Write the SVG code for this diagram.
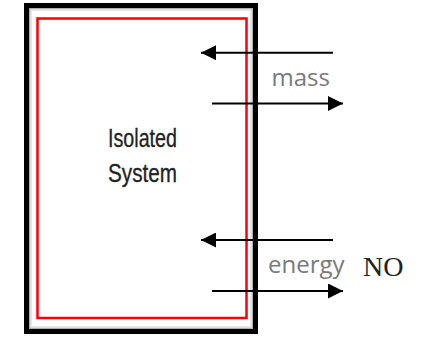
<svg xmlns="http://www.w3.org/2000/svg" width="436" height="339" viewBox="0 0 436 339">
  <style>
    .flow { stroke: #000; stroke-width: 2; fill: none; marker-end: url(#head); }
    .lbl { font-family: "Open Sans", "Noto Sans", sans-serif; font-size: 24px; fill: #7a7a7a; }
    .sys { font-family: "Liberation Sans", Arial, sans-serif; font-size: 25px; fill: #222; stroke: #222; stroke-width: 0.3; }
  </style>
  <defs>
    <marker id="head" markerUnits="userSpaceOnUse" markerWidth="16" markerHeight="15" refX="15" refY="7.5" orient="auto">
      <path d="M0,0 L15,7.5 L0,15 z" fill="#000"/>
    </marker>
  </defs>
  <rect width="436" height="339" fill="#fff"/>
  <g id="isolated-system">
    <rect x="26.5" y="5.5" width="229" height="326" fill="#fff" stroke="#000" stroke-width="5"/>
    <rect x="29.75" y="8.75" width="222.5" height="319.5" fill="none" stroke="#b0b0b0" stroke-width="1.5"/>
    <rect x="31.25" y="10.25" width="219.5" height="316.5" fill="none" stroke="#e6e6e6" stroke-width="1.5"/>
    <rect x="37.5" y="18.5" width="209" height="299.5" fill="none" stroke="#ff0000" stroke-width="2.5"/>
    <text class="sys" x="142.5" y="146.5" text-anchor="middle" textLength="69" lengthAdjust="spacingAndGlyphs">Isolated</text>
    <text class="sys" x="142.5" y="181.5" text-anchor="middle" textLength="69" lengthAdjust="spacingAndGlyphs">System</text>
  </g>
  <g id="connectors">
    <line class="flow" x1="333" y1="52.7" x2="201" y2="52.7"/>
    <line class="flow" x1="212" y1="103.5" x2="343" y2="103.5"/>
    <line class="flow" x1="333" y1="240" x2="201" y2="240"/>
    <line class="flow" x1="212" y1="291" x2="343" y2="291"/>
  </g>
  <g id="labels">
    <text class="lbl" x="271.5" y="85.5">mass</text>
    <text class="lbl" x="268" y="272.5">energy</text>
    <text x="363" y="275.5" font-family="Liberation Serif, 'Times New Roman', serif" font-size="28" fill="#222">NO</text>
  </g>
</svg>
